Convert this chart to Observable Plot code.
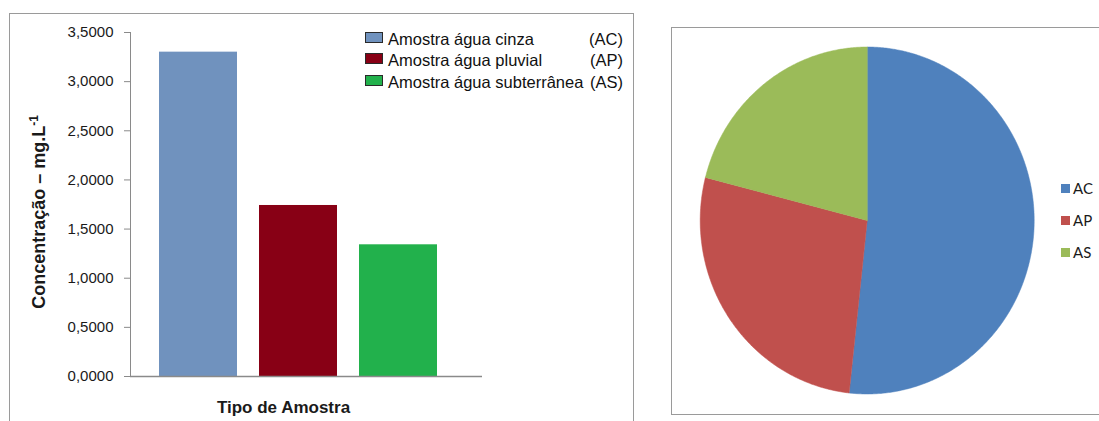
<!DOCTYPE html>
<html><head><meta charset="utf-8">
<script src="https://cdn.jsdelivr.net/npm/d3@7"></script>
<script src="https://cdn.jsdelivr.net/npm/@observablehq/plot@0.6"></script>
<style>
html,body{margin:0;padding:0;background:#fff;}
body{width:1099px;height:421px;position:relative;overflow:hidden;font-family:"Liberation Sans",Arial,sans-serif;color:#1a1a1a;}
.abs{position:absolute;}
#leftBox{left:9px;top:13px;width:623px;height:440px;border:1px solid #9a9a9a;}
#rightBox{left:671px;top:27px;width:460px;height:386px;border:1px solid #9a9a9a;}
#bar{left:0;top:0;}
#pie{left:671px;top:27px;}
.lrow{position:absolute;left:365px;height:22px;display:flex;align-items:center;font-size:16.5px;white-space:nowrap;color:#111;}
.lsw{width:18px;height:11px;box-sizing:border-box;border:1px solid #2a2a2a;margin-right:5px;position:relative;top:-2px;}
.llab{width:235px;display:flex;justify-content:space-between;}
.prow{position:absolute;left:1061px;height:16px;display:flex;align-items:center;font-family:Lato,"Open Sans",sans-serif;font-size:15px;color:#1a1a1a;}
.psw{width:9px;height:9px;margin-right:3px;}
#xlab{left:183.5px;top:399px;width:200px;text-align:center;font-weight:bold;font-size:17px;line-height:17px;}
#ylab{left:38.75px;top:211.5px;transform:translate(-50%,-50%) rotate(-90deg);font-weight:bold;font-size:18px;line-height:18px;white-space:nowrap;}
#ylab sup{font-size:12px;line-height:0;}
</style>
</head>
<body>
<div id="bar" class="abs"></div>
<div id="pie" class="abs"></div>
<div id="leftBox" class="abs"></div>
<div id="rightBox" class="abs"></div>
<div id="xlab" class="abs"></div>
<div id="ylab" class="abs"></div>
<div id="legend"></div>
<div id="pieLegend"></div>
<script>
// ---- data ----
const categories = ["AC", "AP", "AS"];
const seriesNames = ["Amostra água cinza", "Amostra água pluvial", "Amostra água subterrânea"];
const values = [3.30, 1.74, 1.34];
const yTicks = [0, 0.5, 1.0, 1.5, 2.0, 2.5, 3.0, 3.5];
const barColors = ["#7092BE", "#880015", "#22B14C"];
const pieColors = ["#4F81BD", "#C0504D", "#9BBB59"];
const xTitle = "Tipo de Amostra";
const yTitle = "Concentração – mg.L";
const yTitleSup = "-1";

const barData = categories.map((c, i) => ({code: c, name: seriesNames[i], value: values[i]}));
const fmt = d => d.toFixed(4).replace(".", ",");

// ---- bar chart ----
const bar = Plot.plot({
  width: 640, height: 421,
  marginTop: 32, marginBottom: 45, marginLeft: 130, marginRight: 158,
  style: {background: "transparent", fontFamily: "'Liberation Sans', Arial, sans-serif", fontSize: "15px", color: "#1a1a1a", overflow: "visible"},
  x: {domain: categories, range: [158, 438], paddingInner: 0.224, paddingOuter: 0, axis: null},
  y: {domain: [0, 3.5], axis: null},
  color: {domain: categories, range: barColors},
  marks: [
    Plot.barY(barData, {x: "code", y: "value", fill: "code"}),
    Plot.frame({anchor: "left", stroke: "#8a8a8a"}),
    Plot.ruleY([0], {stroke: "#8a8a8a", strokeWidth: 1.5}),
    Plot.axisY(yTicks, {tickSize: 6, tickPadding: 11, tickFormat: fmt, stroke: "#8a8a8a", label: null, fontSize: 15})
  ]
});
document.getElementById("bar").appendChild(bar);

document.getElementById("xlab").textContent = xTitle;
document.getElementById("ylab").innerHTML = yTitle + "<sup>" + yTitleSup + "</sup>";

// legend for bars
const leg = document.getElementById("legend");
const rowCenters = [39.2, 60.7, 82.2];
barData.forEach((d, i) => {
  const r = document.createElement("div");
  r.className = "lrow";
  r.style.top = (rowCenters[i] - 11) + "px";
  r.innerHTML = `<div class="lsw" style="background:${barColors[i]}"></div><div class="llab"><span>${d.name}</span><span>(${d.code})</span></div>`;
  leg.appendChild(r);
});

// ---- pie chart ----
const total = d3.sum(values);
const slices = [];
let cum = 0;
categories.forEach((c, i) => {
  const a0 = cum / total * 2 * Math.PI;
  cum += values[i];
  const a1 = cum / total * 2 * Math.PI;
  const n = Math.max(2, Math.ceil((a1 - a0) / (Math.PI / 360)));
  slices.push({k: c, x: 0, y: 0});
  for (let j = 0; j <= n; j++) {
    const a = a0 + (a1 - a0) * j / n;
    slices.push({k: c, x: Math.sin(a), y: Math.cos(a)});
  }
});
const cx = 195.7, cy = 193, rx = 167, ry = 173.5;
const pie = Plot.plot({
  width: 428, height: 387,
  margin: 0,
  style: {background: "transparent", overflow: "visible"},
  x: {domain: [-1, 1], range: [cx - rx, cx + rx], axis: null},
  y: {domain: [-1, 1], range: [cy + ry, cy - ry], axis: null},
  color: {domain: categories, range: pieColors},
  marks: [
    Plot.line(slices, {x: "x", y: "y", z: "k", fill: "k", stroke: "k", strokeWidth: 0.5, curve: "linear-closed"})
  ]
});
document.getElementById("pie").appendChild(pie);

const pleg = document.getElementById("pieLegend");
const pCenters = [188, 220, 252];
categories.forEach((c, i) => {
  const r = document.createElement("div");
  r.className = "prow";
  r.style.top = (pCenters[i] - 8) + "px";
  r.innerHTML = `<div class="psw" style="background:${pieColors[i]}"></div><span>${c}</span>`;
  pleg.appendChild(r);
});
</script>
</body></html>
